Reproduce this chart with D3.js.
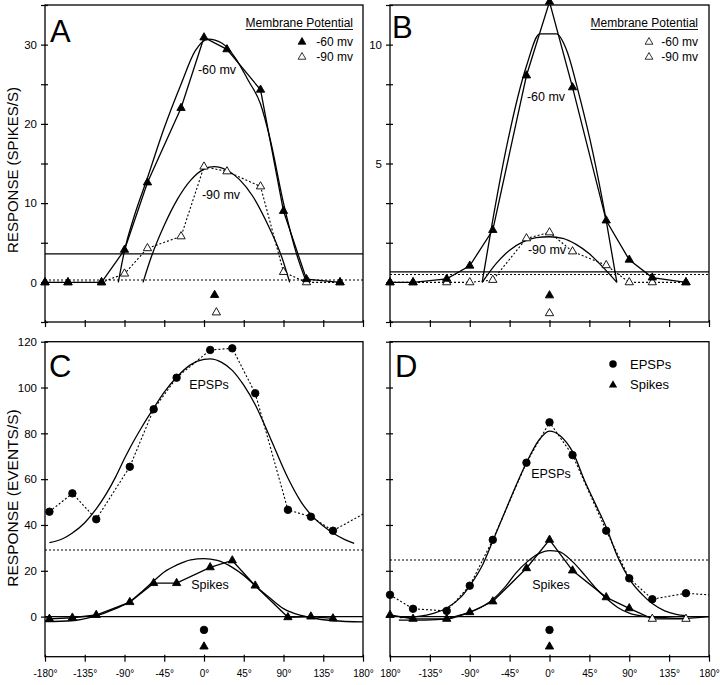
<!DOCTYPE html>
<html lang="en">
<head>
<meta charset="utf-8">
<title>Orientation tuning</title>
<script src="https://cdn.jsdelivr.net/npm/d3@7"></script>
<style>
  body { margin: 0; background: #fff; }
  text { font-family: "Liberation Sans", Arial, Helvetica, sans-serif; fill: #000; }
</style>
</head>
<body>
<script>
// ---- data (degrees / responses) ----
var angles  = [-180, -154, -116, -90, -64, -26, 0, 26, 64, 90, 116, 154];
var anglesC = [-175, -149, -122, -84, -57, -31, 7, 32, 58, 95, 121, 146];
var degTicks = [-180, -135, -90, -45, 0, 45, 90, 135, 180];
var degLabelsC = ["-180°", "-135°", "-90°", "-45°", "0°", "45°", "90°", "135°", "180°"];
var degLabelsD = ["180°", "-135°", "-90°", "-45°", "0°", "45°", "90°", "135°", "180°"];

// A: spikes/s at two membrane potentials
var a60 = [0, 0, 0, 4.1, 12.6, 22.0, 30.9, 29.4, 24.3, 9.0, 0.4, 0];
var a90 = [0, 0, 0, 1.1, 4.3, 5.8, 14.6, 14.0, 12.1, 1.3, 0, 0];
var a60FitDeg = [-97, -90, -80, -64, -45, -26, -10, 5, 20, 35, 50, 64, 75, 90, 105, 116];
var a60FitVal = [0, 4, 8, 13.2, 19.5, 25, 29.2, 30.7, 30.2, 28.4, 25.5, 22.5, 18, 10, 3.5, 0];
var a90FitDeg = [-69, -60, -45, -30, -15, 0, 12, 25, 40, 55, 70, 88, 97];
var a90FitVal = [0, 3.1, 7.2, 10.5, 12.9, 14.3, 14.6, 14.2, 13.0, 10.9, 7.8, 3.2, 0];
var aThresh = 3.6, aDotted = 0.3;
var aPrefDeg = [12, 14], aPrefVal = [-1.6, -3.8];

// B
var b60 = [0, 0, 0.15, 0.7, 2.2, 8.7, 11.8, 8.2, 2.6, 0.95, 0.2, 0];
var b90 = [0, 0, 0, 0, 0.1, 1.85, 2.1, 1.3, 0.72, 0, 0, 0];
var b60FitDeg = [-76, -66, -49, -26, -11, 8, 19, 34, 49, 64, 76];
var b60FitVal = [0, 2.2, 5.6, 9.1, 10.45, 10.45, 9.8, 7.8, 5.45, 2.6, 0];
var b90FitDeg = [-76, -60, -45, -30, -15, 0, 15, 30, 45, 60, 76];
var b90FitVal = [0, 0.8, 1.35, 1.7, 1.88, 1.92, 1.85, 1.6, 1.2, 0.65, 0];
var bThresh = 0.44, bDotted = 0.33;
var bPrefDeg = [0, 0], bPrefVal = [-0.55, -1.3];

// C: events/s
var cEpsp   = [45.8, 53.8, 42.5, 65.4, 90.5, 104.3, 116.4, 117.1, 97.5, 46.6, 43.6, 37.5];
var cSpikes = [-1, -0.5, 0.7, 6.3, 14.6, 14.6, 21.5, 24.5, 13.5, -0.3, 0, -0.8];
var cEpspFitDeg = [-175, -160, -149, -135, -122, -110, -100, -90, -84, -70, -57, -45, -31, -15, 0, 7, 20, 32, 45, 58, 75, 95, 110, 121, 135, 146, 160, 170];
var cEpspFitVal = [32.3, 34, 36.5, 41, 47, 54, 61, 69, 73.5, 83, 91, 98, 104.5, 110, 112.3, 112.5, 111, 107.5, 101, 92.5, 78, 60.5, 50, 44.5, 39.5, 36.5, 33.5, 32];
var cSpkFitDeg = [-180, -150, -125, -100, -84, -70, -57, -45, -31, -15, 0, 15, 32, 45, 58, 75, 90, 110, 121, 146, 180];
var cSpkFitVal = [-2.2, -1.8, 0, 3.5, 6.5, 11, 15.5, 19.5, 22.5, 24.8, 25.3, 24.5, 21.5, 18, 13.5, 8, 3.5, 0.5, -0.5, -1.8, -2.3];
var cDotted = 29.1;
var cPrefDeg = [0, 0], cPrefVal = [-5.8, -13.1];

// D
var dEpsp   = [9.5, 3.4, 2.5, 13.5, 33.5, 67.2, 84.8, 70.5, 37.5, 16.7, 7.6, 10.2];
var dSpikes = [0.7, -1, -1, 1.9, 6.6, 21.1, 33.5, 20.1, 8.4, 3.6, -1, -1];
var dSpikesOpen = [false, false, false, false, false, false, false, false, false, false, true, true];
var dEpspFitDeg = [-169, -150, -130, -115, -100, -89, -75, -64, -50, -38, -25, -12, 0, 12, 26, 40, 52, 64, 77, 90, 105, 116, 130, 143, 154];
var dEpspFitVal = [-0.4, 0, 1.5, 4, 8.5, 14, 23, 33, 46, 57, 68, 77, 81, 79, 72, 59, 49, 39, 26, 16.5, 9.5, 5.7, 2.5, 1.0, 0.4];
var dSpkFitDeg = [-170, -140, -115, -100, -89, -75, -64, -50, -38, -25, -12, 0, 10, 26, 40, 52, 64, 77, 90, 110, 130, 150, 180];
var dSpkFitVal = [-1.5, -1.5, -1, 0.5, 2, 4.5, 7.5, 13, 19, 24, 27.5, 28.8, 28.5, 24, 18, 12.5, 8, 4, 1.5, 0, -0.5, -0.8, 0];
var dDotted = 24.7;
var dPrefDeg = [0, 0], dPrefVal = [-5.8, -13.1];

// ---- drawing ----
var svg = d3.select("body").append("svg").attr("width", 720).attr("height", 685);

function pairs(xs, ys) { return xs.map(function(d, i) { return [d, ys[i]]; }); }

function makePanel(box, yDomain) {
  var x = d3.scaleLinear().domain([-180, 180]).range([box.x0, box.x1]);
  var y = d3.scaleLinear().domain(yDomain).range([box.y1, box.y0]);
  var g = svg.append("g");
  var id = "clip" + Math.round(box.x0) + "_" + Math.round(box.y0);
  svg.append("clipPath").attr("id", id).append("rect")
    .attr("x", box.x0).attr("y", box.y0)
    .attr("width", box.x1 - box.x0).attr("height", box.y1 - box.y0);
  var plot = g.append("g").attr("clip-path", "url(#" + id + ")");
  // frame
  g.append("rect").attr("x", box.x0).attr("y", box.y0)
    .attr("width", box.x1 - box.x0).attr("height", box.y1 - box.y0)
    .attr("fill", "none").attr("stroke", "#000").attr("stroke-width", 1.3);
  return { x: x, y: y, g: g, plot: plot, box: box };
}

function yAxis(p, ticks, fmt) {
  var ax = p.g.append("g").attr("transform", "translate(" + p.box.x0 + ",0)")
    .call(d3.axisLeft(p.y).tickValues(ticks).tickSize(4).tickPadding(4).tickFormat(fmt));
  ax.select(".domain").remove();
  ax.selectAll("line").attr("x1", 3).attr("stroke-width", 1.2);
  ax.selectAll("text").style("font-size", "11.5px")
    .style("font-family", '"Liberation Sans", Arial, sans-serif');
}

function xAxis(p, labels) {
  var ax = p.g.append("g").attr("transform", "translate(0," + p.box.y1 + ")")
    .call(d3.axisBottom(p.x).tickValues(degTicks).tickSize(5).tickPadding(8)
      .tickFormat(function(d, i) { return labels ? labels[i] : ""; }));
  ax.select(".domain").remove();
  ax.selectAll("line").attr("y1", -2).attr("stroke-width", 1.2);
  ax.selectAll("text").style("font-size", "10px")
    .style("font-family", '"Liberation Sans", Arial, sans-serif');
}

function hline(p, v, dotted) {
  p.plot.append("line").attr("x1", p.box.x0).attr("x2", p.box.x1)
    .attr("y1", p.y(v)).attr("y2", p.y(v))
    .attr("stroke", "#000").attr("stroke-width", dotted ? 1.1 : 1.2)
    .attr("stroke-dasharray", dotted ? "2,2" : null);
}

function path(p, pts, dotted, curve) {
  var line = d3.line().x(function(d) { return p.x(d[0]); }).y(function(d) { return p.y(d[1]); })
    .curve(curve || d3.curveLinear);
  p.plot.append("path").datum(pts).attr("d", line).attr("fill", "none")
    .attr("stroke", "#000").attr("stroke-width", dotted ? 1.1 : 1.3)
    .attr("stroke-dasharray", dotted ? "2,2" : null);
}

function marks(p, pts, shape, open) {
  var sym = d3.symbol().type(shape === "circle" ? d3.symbolCircle : d3.symbolTriangle)
    .size(shape === "circle" ? 44 : 30);
  p.g.selectAll(null).data(pts).enter().append("path")
    .attr("d", sym)
    .attr("transform", function(d) { return "translate(" + p.x(d[0]) + "," + p.y(d[1]) + ")"; })
    .attr("fill", function(d, i) { return (typeof open === "function" ? open(i) : open) ? "#fff" : "#000"; })
    .attr("stroke", "#000").attr("stroke-width", 0.9);
}

function label(x, y, txt, size, anchor) {
  return svg.append("text").attr("x", x).attr("y", y).attr("text-anchor", anchor || "start")
    .style("font-size", size + "px").text(txt);
}

var A = makePanel({ x0: 45, x1: 363, y0: 5, y1: 322 }, [-5, 35]);
var B = makePanel({ x0: 390, x1: 709, y0: 5, y1: 322 }, [-5 / 3, 35 / 3]);
var C = makePanel({ x0: 45, x1: 363, y0: 341.7, y1: 656.7 }, [-17.5, 120]);
var D = makePanel({ x0: 390, x1: 709, y0: 341.7, y1: 656.7 }, [-17.5, 120]);

yAxis(A, d3.range(-5, 36, 5), function(d) { return (d >= 0 && d % 10 === 0) ? d : ""; });
yAxis(B, d3.range(-1, 8).map(function(i) { return i * 5 / 3; }),
  function(d) { return Math.abs(d - 5) < 1e-6 ? "5" : (Math.abs(d - 10) < 1e-6 ? "10" : ""); });
yAxis(C, d3.range(0, 121, 20), function(d) { return d; });
yAxis(D, d3.range(0, 121, 20), function() { return ""; });
xAxis(A); xAxis(B); xAxis(C, degLabelsC); xAxis(D, degLabelsD);

// Panel A
hline(A, aThresh, false);
hline(A, aDotted, true);
path(A, pairs(a60FitDeg, a60FitVal), false, d3.curveMonotoneX);
path(A, pairs(a90FitDeg, a90FitVal), false, d3.curveMonotoneX);
path(A, pairs(angles, a60), false);
path(A, pairs(angles, a90), true);
marks(A, pairs(angles, a90), "triangle", true);
marks(A, pairs(angles, a60), "triangle", false);
marks(A, [[aPrefDeg[0], aPrefVal[0]]], "triangle", false);
marks(A, [[aPrefDeg[1], aPrefVal[1]]], "triangle", true);

// Panel B
hline(B, bThresh, false);
hline(B, bDotted, true);
path(B, pairs(b60FitDeg, b60FitVal), false, d3.curveMonotoneX);
path(B, pairs(b90FitDeg, b90FitVal), false, d3.curveMonotoneX);
path(B, pairs(angles, b60), false);
path(B, pairs(angles, b90), true);
marks(B, pairs(angles, b90), "triangle", true);
marks(B, pairs(angles, b60), "triangle", false);
marks(B, [[bPrefDeg[0], bPrefVal[0]]], "triangle", false);
marks(B, [[bPrefDeg[1], bPrefVal[1]]], "triangle", true);

// Panel C
hline(C, 0, false);
hline(C, cDotted, true);
path(C, pairs(cEpspFitDeg, cEpspFitVal), false, d3.curveMonotoneX);
path(C, pairs(cSpkFitDeg, cSpkFitVal), false, d3.curveMonotoneX);
path(C, pairs(anglesC, cEpsp).concat([[anglesC[0] + 360, cEpsp[0]]]), true);
path(C, pairs(anglesC, cSpikes), false);
marks(C, pairs(anglesC, cEpsp), "circle", false);
marks(C, pairs(anglesC, cSpikes), "triangle", false);
marks(C, [[cPrefDeg[0], cPrefVal[0]]], "circle", false);
marks(C, [[cPrefDeg[1], cPrefVal[1]]], "triangle", false);

// Panel D
hline(D, 0, false);
hline(D, dDotted, true);
path(D, pairs(dEpspFitDeg, dEpspFitVal), false, d3.curveMonotoneX);
path(D, pairs(dSpkFitDeg, dSpkFitVal), false, d3.curveMonotoneX);
path(D, pairs(angles, dEpsp).concat([[angles[0] + 360, dEpsp[0]]]), true);
path(D, pairs(angles, dSpikes), false);
marks(D, pairs(angles, dEpsp), "circle", false);
marks(D, pairs(angles, dSpikes), "triangle", function(i) { return dSpikesOpen[i]; });
marks(D, [[dPrefDeg[0], dPrefVal[0]]], "circle", false);
marks(D, [[dPrefDeg[1], dPrefVal[1]]], "triangle", false);

// panel letters
label(50, 42, "A", 31); label(392, 38, "B", 31);
label(49, 377, "C", 31); label(395, 377, "D", 31);

// curve labels
label(217, 74, "-60 mv", 12.5, "middle"); label(221, 199, "-90 mv", 12.5, "middle");
label(546, 101, "-60 mv", 12.5, "middle"); label(547, 254, "-90 mv", 12.5, "middle");
label(209, 389, "EPSPs", 12.5, "middle"); label(210, 589, "Spikes", 12.5, "middle");
label(551, 478, "EPSPs", 12.5, "middle"); label(551, 589, "Spikes", 12.5, "middle");

// legends A and B
[[353, 302], [698, 649]].forEach(function(pos, k) {
  var t = label(pos[0], 27, "Membrane Potential", 12, "end");
  var w = t.node().getComputedTextLength();
  svg.append("line").attr("x1", pos[0] - w).attr("x2", pos[0]).attr("y1", 29.5).attr("y2", 29.5)
    .attr("stroke", "#000").attr("stroke-width", 0.9);
  label(pos[0], 46, "-60 mv", 12, "end");
  label(pos[0], 61, "-90 mv", 12, "end");
  var sym = d3.symbol().type(d3.symbolTriangle).size(26);
  svg.append("path").attr("d", sym).attr("transform", "translate(" + pos[1] + ",42)")
    .attr("fill", k === 0 ? "#000" : "#fff").attr("stroke", "#000").attr("stroke-width", 0.8);
  svg.append("path").attr("d", sym).attr("transform", "translate(" + pos[1] + ",57)")
    .attr("fill", "#fff").attr("stroke", "#000").attr("stroke-width", 0.8);
});

// legend D
svg.append("path").attr("d", d3.symbol().type(d3.symbolCircle).size(44)).attr("transform", "translate(613,364)");
svg.append("path").attr("d", d3.symbol().type(d3.symbolTriangle).size(30)).attr("transform", "translate(613,385)");
label(630, 368.5, "EPSPs", 13); label(630, 389, "Spikes", 13);

// y titles
svg.append("text").attr("transform", "translate(18,170) rotate(-90)").attr("text-anchor", "middle")
  .style("font-size", "15px").text("RESPONSE (SPIKES/S)");
svg.append("text").attr("transform", "translate(18,498) rotate(-90)").attr("text-anchor", "middle")
  .style("font-size", "15.5px").text("RESPONSE (EVENTS/S)");
</script>
</body>
</html>
